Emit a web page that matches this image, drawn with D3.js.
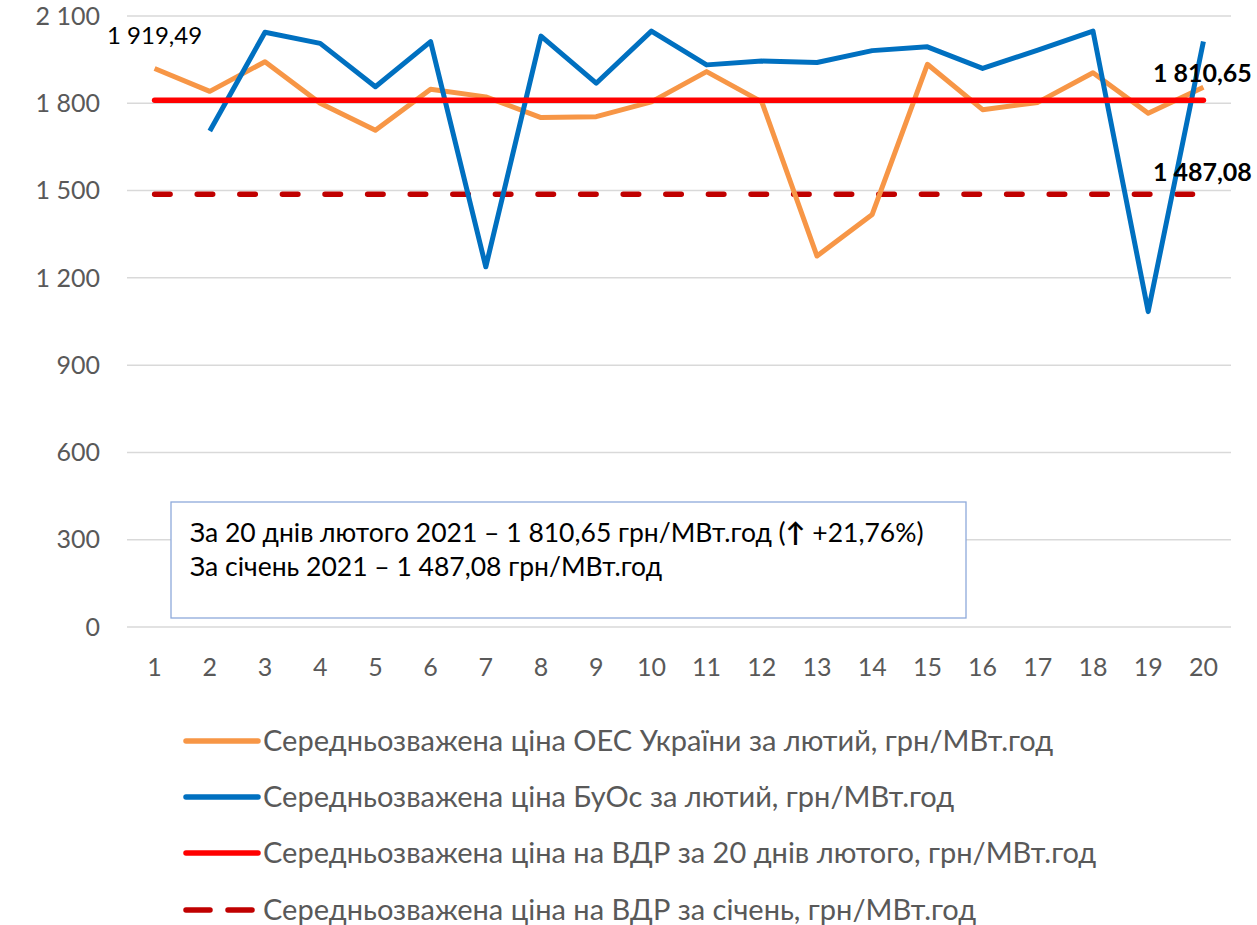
<!DOCTYPE html>
<html><head><meta charset="utf-8">
<script src="https://cdn.jsdelivr.net/npm/d3@7"></script>
<style>body{margin:0;background:#fff}svg{display:block}text{font-family:Lato,"Noto Sans",sans-serif}</style>
</head><body><svg id="c" width="1257" height="925"></svg>
<script>
const days = d3.range(1,21).map(String);
const oesValues = [1919.49,1841,1943,1800,1707,1848,1822,1751,1754,1805,1909,1805,1275,1418,1934,1778,1803,1905,1766,1855];
const buosValues = [null,1705,2044,2006,1857,2012,1238,2031,1869,2048,1932,1945,1940,1981,1994,1920,1983,2048,1084,2012];
const avgFeb = 1810.65;
const avgJan = 1487.08;
const yTicks = [0,300,600,900,1200,1500,1800,2100];
const legendLabels = [
 "Середньозважена ціна ОЕС України за лютий, грн/МВт.год",
 "Середньозважена ціна БуОс за лютий, грн/МВт.год",
 "Середньозважена ціна на ВДР за 20 днів лютого, грн/МВт.год",
 "Середньозважена ціна на ВДР за січень, грн/МВт.год"];
const boxLine1 = "За 20 днів лютого 2021 – 1 810,65 грн/МВт.год (";
const boxArrow = "↑";
const boxLine1End = " +21,76%)";
const boxLine2 = "За січень 2021 – 1 487,08 грн/МВт.год";

const loc = d3.formatLocale({decimal:",", thousands:"\u00a0", grouping:[3], currency:["",""]});
const fInt = loc.format(",d"), f2 = loc.format(",.2f");

const svg = d3.select("#c");
const x = d3.scaleBand().domain(days).range([127,1231]);
const cx = d => x(d) + x.bandwidth()/2;
const y = d3.scaleLinear().domain([0,2100]).range([627,16]);

const colors = {oes:"#F79646", buos:"#0070C0", feb:"#FF0000", jan:"#C00000"};

// gridlines
svg.append("g").selectAll("line").data(yTicks).join("line")
 .attr("x1",127).attr("x2",1231).attr("y1",d=>y(d)).attr("y2",d=>y(d))
 .attr("stroke","#d9d9d9").attr("stroke-width",1.5);

// y labels
svg.append("g").selectAll("text").data(yTicks).join("text")
 .attr("x",100).attr("y",d=>y(d)).attr("dy","0.35em").attr("text-anchor","end")
 .attr("fill","#595959").attr("font-size",25).text(d=>fInt(d));

// x labels
svg.append("g").selectAll("text").data(days).join("text")
 .attr("x",d=>cx(d)).attr("y",667).attr("dy","0.35em").attr("text-anchor","middle")
 .attr("fill","#595959").attr("font-size",25).text(d=>d);

// annotation box
svg.append("rect").attr("x",171).attr("y",502).attr("width",795).attr("height",116)
 .attr("fill","#fff").attr("stroke","#8EAADB").attr("stroke-width",1.3);
const t1 = svg.append("text").attr("x",190).attr("y",533).attr("dy","0.35em").attr("font-size",26.5).attr("fill","#000");
t1.append("tspan").text(boxLine1);
t1.append("tspan").attr("font-weight","bold").text(boxArrow);
t1.append("tspan").text(boxLine1End);
svg.append("text").attr("x",190).attr("y",567).attr("dy","0.35em").attr("font-size",26.5).attr("fill","#000").text(boxLine2);

// reference lines
svg.append("line").attr("x1",cx(days[0])).attr("x2",cx(days[19])).attr("y1",y(avgJan)).attr("y2",y(avgJan))
 .attr("stroke",colors.jan).attr("stroke-width",5.5).attr("stroke-dasharray","15.5,27.1").attr("stroke-linecap","round");

const line = d3.line().defined(d=>d.v!=null).x(d=>cx(d.d)).y(d=>y(d.v));
svg.append("path").datum(days.map((d,i)=>({d,v:oesValues[i]})))
 .attr("d",line).attr("fill","none").attr("stroke",colors.oes).attr("stroke-width",5).attr("stroke-linejoin","round");
svg.append("path").datum(days.map((d,i)=>({d,v:buosValues[i]})))
 .attr("d",line).attr("fill","none").attr("stroke",colors.buos).attr("stroke-width",5).attr("stroke-linejoin","round");

svg.append("line").attr("x1",cx(days[0])).attr("x2",cx(days[19])).attr("y1",y(avgFeb)).attr("y2",y(avgFeb))
 .attr("stroke",colors.feb).attr("stroke-width",5.5).attr("stroke-linecap","round");

// data labels
svg.append("text").attr("x",cx(days[0])).attr("y",y(oesValues[0])-33).attr("dy","0.35em").attr("text-anchor","middle")
 .attr("font-size",24).attr("fill","#000").text(f2(oesValues[0]));
svg.append("text").attr("x",cx(days[19])-1).attr("y",y(avgFeb)-27).attr("dy","0.35em").attr("text-anchor","middle")
 .attr("font-size",25).attr("font-weight","bold").attr("fill","#000").text(f2(avgFeb));
svg.append("text").attr("x",cx(days[19])-1).attr("y",y(avgJan)-22).attr("dy","0.35em").attr("text-anchor","middle")
 .attr("font-size",25).attr("font-weight","bold").attr("fill","#000").text(f2(avgJan));

// legend
const legendY = [741,797,853,910];
const legendStyles = [
 {c:colors.oes,dash:null},{c:colors.buos,dash:null},{c:colors.feb,dash:null},{c:colors.jan,dash:"24,18"}];
const lg = svg.append("g");
legendLabels.forEach((lab,i)=>{
  const s = legendStyles[i];
  const ln = lg.append("line").attr("x1",186).attr("x2",258).attr("y1",legendY[i]).attr("y2",legendY[i])
    .attr("stroke",s.c).attr("stroke-width",5.5).attr("stroke-linecap","round");
  if(s.dash) ln.attr("stroke-dasharray",s.dash);
  lg.append("text").attr("x",263).attr("y",legendY[i]).attr("dy","0.35em").attr("fill","#595959")
    .attr("font-size",29).text(lab);
});
</script></body></html>
